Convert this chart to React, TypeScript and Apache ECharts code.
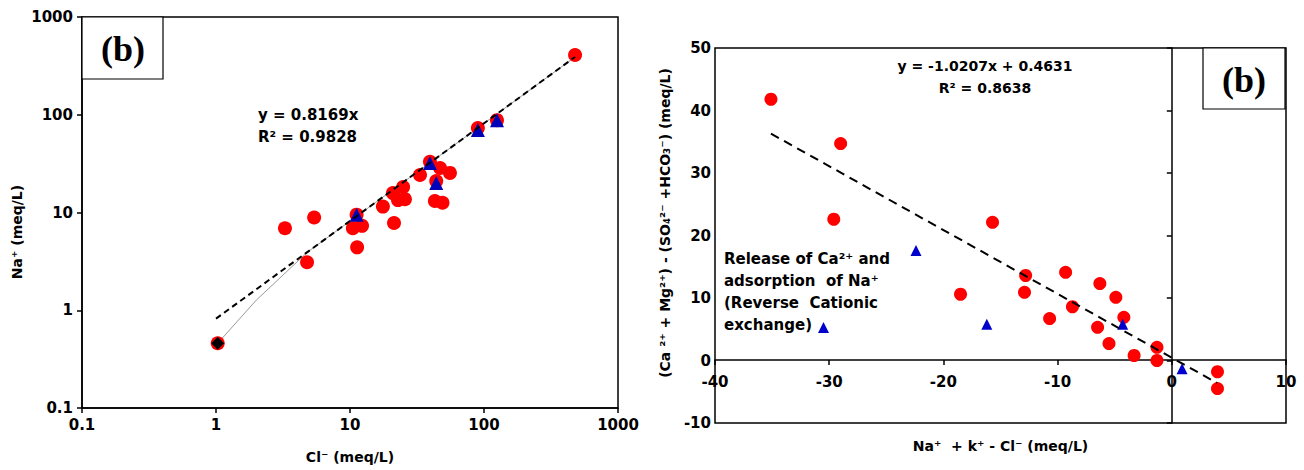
import React, { useEffect, useRef } from "react";
import * as echarts from "echarts";

// ---------- Left panel: Na+ vs Cl- (log-log) ----------
const leftRedCl = [478, 125, 90, 39.5, 47, 55.7, 33.3, 44, 24.9, 20.9, 22.8, 25.7, 43, 49, 17.6, 21.3, 11.2, 10.5, 12.3, 5.4, 3.27, 4.78, 11.3, 1.03];
const leftRedNa = [408, 88, 73, 33, 28.5, 25.4, 24.2, 21, 18.2, 15.8, 13.4, 13.7, 13.1, 12.6, 11.5, 7.8, 9.5, 6.9, 7.3, 8.9, 6.9, 3.1, 4.4, 0.46];
const leftTriCl = [11.2, 39.5, 44, 90, 125];
const leftTriNa = [9.5, 32, 20, 70, 88];
const leftDiamondCl = [1.03];
const leftDiamondNa = [0.46];
const leftTrendCl = [1, 478];
const leftTrendNa = [0.82, 390];
const leftGrayCl = [1.03, 2, 4.8, 478];
const leftGrayNa = [0.46, 1.27, 3.92, 390];

// ---------- Right panel: ion exchange ----------
const rightRedX = [-35.1, -29, -29.6, -15.7, -18.5, -12.8, -12.9, -9.3, -6.3, -4.9, -8.7, -10.7, -4.2, -6.5, -5.5, -3.3, -1.3, -1.3, 4.0, 4.0];
const rightRedY = [41.8, 34.7, 22.6, 22.1, 10.6, 13.6, 10.9, 14.1, 12.3, 10.1, 8.6, 6.7, 6.9, 5.3, 2.7, 0.8, 2.1, 0, -1.8, -4.5];
const rightTriX = [-22.4, -30.5, -16.2, -4.3, 0.9];
const rightTriY = [17.6, 5.3, 5.8, 5.8, -1.3];
const rightTrendX = [-35.1, 3.96];
const rightTrendY = [36.3, -3.6];

const logTicks = ["0.1", "1", "10", "100", "1000"];

const zip = (a: number[], b: number[]) => a.map((v, i) => [v, b[i]]);

const FONT = "'DejaVu Sans', 'Liberation Sans', Arial, sans-serif";
const SERIF = "'Liberation Serif', 'DejaVu Serif', 'Times New Roman', serif";

const axisCommon = {
  axisLine: { lineStyle: { color: "#000", width: 1.5 } },
  axisTick: { length: 5, lineStyle: { color: "#000", width: 1.5 } },
  splitLine: { show: false },
  nameTextStyle: { color: "#000", fontFamily: FONT, fontWeight: "bold", fontSize: 14 },
};
const labelStyle = { color: "#000", fontFamily: FONT, fontWeight: "bold", fontSize: 15 };

export default function App() {
  const ref = useRef<HTMLDivElement>(null);
  useEffect(() => {
    if (!ref.current) return;
    const chart = echarts.init(ref.current, undefined, { renderer: "svg" });
    const logFmt = (v: number) => {
      const s = String(+v.toPrecision(3));
      return logTicks.includes(s) ? s : "";
    };
    const option: any = {
      animation: false,
      backgroundColor: "#fff",
      grid: [
        { left: 82, top: 17, width: 536, height: 391, show: true, borderColor: "#000", borderWidth: 1.5, outerBoundsMode: "none", containLabel: false },
        { left: 715, top: 48, width: 571, height: 375, show: true, borderColor: "#000", borderWidth: 1.5, outerBoundsMode: "none", containLabel: false },
      ],
      xAxis: [
        {
          ...axisCommon,
          gridIndex: 0,
          type: "log",
          logBase: 10,
          min: 0.1,
          max: 1000,
          axisLabel: { ...labelStyle, margin: 9, formatter: logFmt },
          name: "Cl⁻ (meq/L)",
          nameLocation: "middle",
          nameGap: 42,
        },
        {
          ...axisCommon,
          gridIndex: 1,
          type: "value",
          position: "bottom",
          offset: -63,
          min: -40,
          max: 10,
          interval: 10,
          axisLine: { onZero: false, lineStyle: { color: "#000", width: 1.5 } },
          axisLabel: { ...labelStyle, margin: 14 },
          name: "Na⁺  + k⁺ - Cl⁻ (meq/L)",
          nameLocation: "middle",
          nameGap: 79,
        },
      ],
      yAxis: [
        {
          ...axisCommon,
          gridIndex: 0,
          type: "log",
          logBase: 10,
          min: 0.1,
          max: 1000,
          axisLabel: { ...labelStyle, margin: 9, formatter: logFmt },
        },
        {
          ...axisCommon,
          gridIndex: 1,
          type: "value",
          min: -10,
          max: 50,
          interval: 10,
          axisLine: { onZero: true, lineStyle: { color: "#000", width: 1.5 } },
          axisLabel: { ...labelStyle, margin: 4 },
        },
      ],
      series: [
        {
          type: "line",
          xAxisIndex: 0,
          yAxisIndex: 0,
          data: zip(leftGrayCl, leftGrayNa),
          symbol: "none",
          lineStyle: { color: "#999", width: 1 },
          z: 1,
        },
        {
          type: "scatter",
          xAxisIndex: 0,
          yAxisIndex: 0,
          data: zip(leftRedCl, leftRedNa),
          symbol: "circle",
          symbolSize: 14,
          itemStyle: { color: "#ff0000", opacity: 1 },
          z: 2,
        },
        {
          type: "scatter",
          xAxisIndex: 0,
          yAxisIndex: 0,
          data: zip(leftTriCl, leftTriNa),
          symbol: "triangle",
          symbolSize: 14,
          itemStyle: { color: "#0000b8", opacity: 1 },
          z: 3,
        },
        {
          type: "scatter",
          xAxisIndex: 0,
          yAxisIndex: 0,
          data: zip(leftDiamondCl, leftDiamondNa),
          symbol: "diamond",
          symbolSize: 13,
          itemStyle: { color: "#000", opacity: 1 },
          z: 3,
        },
        {
          type: "line",
          xAxisIndex: 0,
          yAxisIndex: 0,
          data: zip(leftTrendCl, leftTrendNa),
          symbol: "none",
          lineStyle: { color: "#000", width: 2, type: [6, 4] },
          z: 4,
        },
        {
          type: "scatter",
          xAxisIndex: 1,
          yAxisIndex: 1,
          data: zip(rightRedX, rightRedY),
          symbol: "circle",
          symbolSize: 13,
          itemStyle: { color: "#ff0000", opacity: 1 },
          z: 2,
        },
        {
          type: "scatter",
          xAxisIndex: 1,
          yAxisIndex: 1,
          data: zip(rightTriX, rightTriY),
          symbol: "triangle",
          symbolSize: 11,
          itemStyle: { color: "#0000cc", opacity: 1 },
          z: 3,
        },
        {
          type: "line",
          xAxisIndex: 1,
          yAxisIndex: 1,
          data: zip(rightTrendX, rightTrendY),
          symbol: "none",
          lineStyle: { color: "#000", width: 2, type: [9, 6] },
          z: 4,
        },
      ],
      graphic: [
        {
          type: "rect",
          shape: { x: 82, y: 17, width: 81, height: 62 },
          style: { fill: "#fff", stroke: "#000", lineWidth: 1.2 },
          z: 10,
        },
        {
          type: "text",
          x: 123,
          y: 49,
          style: { text: "(b)", font: `bold 36px ${SERIF}`, fill: "#000", align: "center", verticalAlign: "middle" },
          z: 11,
        },
        {
          type: "rect",
          shape: { x: 1203, y: 48, width: 82, height: 61 },
          style: { fill: "#fff", stroke: "#000", lineWidth: 1.2 },
          z: 10,
        },
        {
          type: "text",
          x: 1244,
          y: 80,
          style: { text: "(b)", font: `bold 36px ${SERIF}`, fill: "#000", align: "center", verticalAlign: "middle" },
          z: 11,
        },
        {
          type: "text",
          x: 258,
          y: 115,
          style: { text: "y = 0.8169x", font: `bold 15px ${FONT}`, fill: "#000", verticalAlign: "middle" },
        },
        {
          type: "text",
          x: 258,
          y: 137,
          style: { text: "R² = 0.9828", font: `bold 15px ${FONT}`, fill: "#000", verticalAlign: "middle" },
        },
        {
          type: "text",
          x: 985,
          y: 66,
          style: { text: "y = -1.0207x + 0.4631", font: `bold 14px ${FONT}`, fill: "#000", align: "center", verticalAlign: "middle" },
        },
        {
          type: "text",
          x: 985,
          y: 88,
          style: { text: "R² = 0.8638", font: `bold 14px ${FONT}`, fill: "#000", align: "center", verticalAlign: "middle" },
        },
        {
          type: "text",
          x: 724,
          y: 248,
          style: {
            text: "Release of Ca²⁺ and\nadsorption  of Na⁺\n(Reverse  Cationic\nexchange)",
            font: `bold 15px ${FONT}`,
            lineHeight: 22,
            fill: "#000",
            verticalAlign: "top",
          },
        },
        {
          type: "text",
          x: 17,
          y: 232,
          rotation: Math.PI / 2,
          style: { text: "Na⁺ (meq/L)", font: `bold 14px ${FONT}`, fill: "#000", align: "center", verticalAlign: "middle" },
        },
        {
          type: "text",
          x: 665,
          y: 223,
          rotation: Math.PI / 2,
          style: {
            text: "(Ca ²⁺ + Mg²⁺) - (SO₄²⁻ +HCO₃⁻) (meq/L)",
            font: `bold 14px ${FONT}`,
            fill: "#000",
            align: "center",
            verticalAlign: "middle",
          },
        },
      ],
    };
    chart.setOption(option);
    return () => chart.dispose();
  }, []);
  return (
    <div
      ref={ref}
      style={{ position: "fixed", left: 0, top: 0, width: 1304, height: 470, background: "#fff" }}
    />
  );
}
